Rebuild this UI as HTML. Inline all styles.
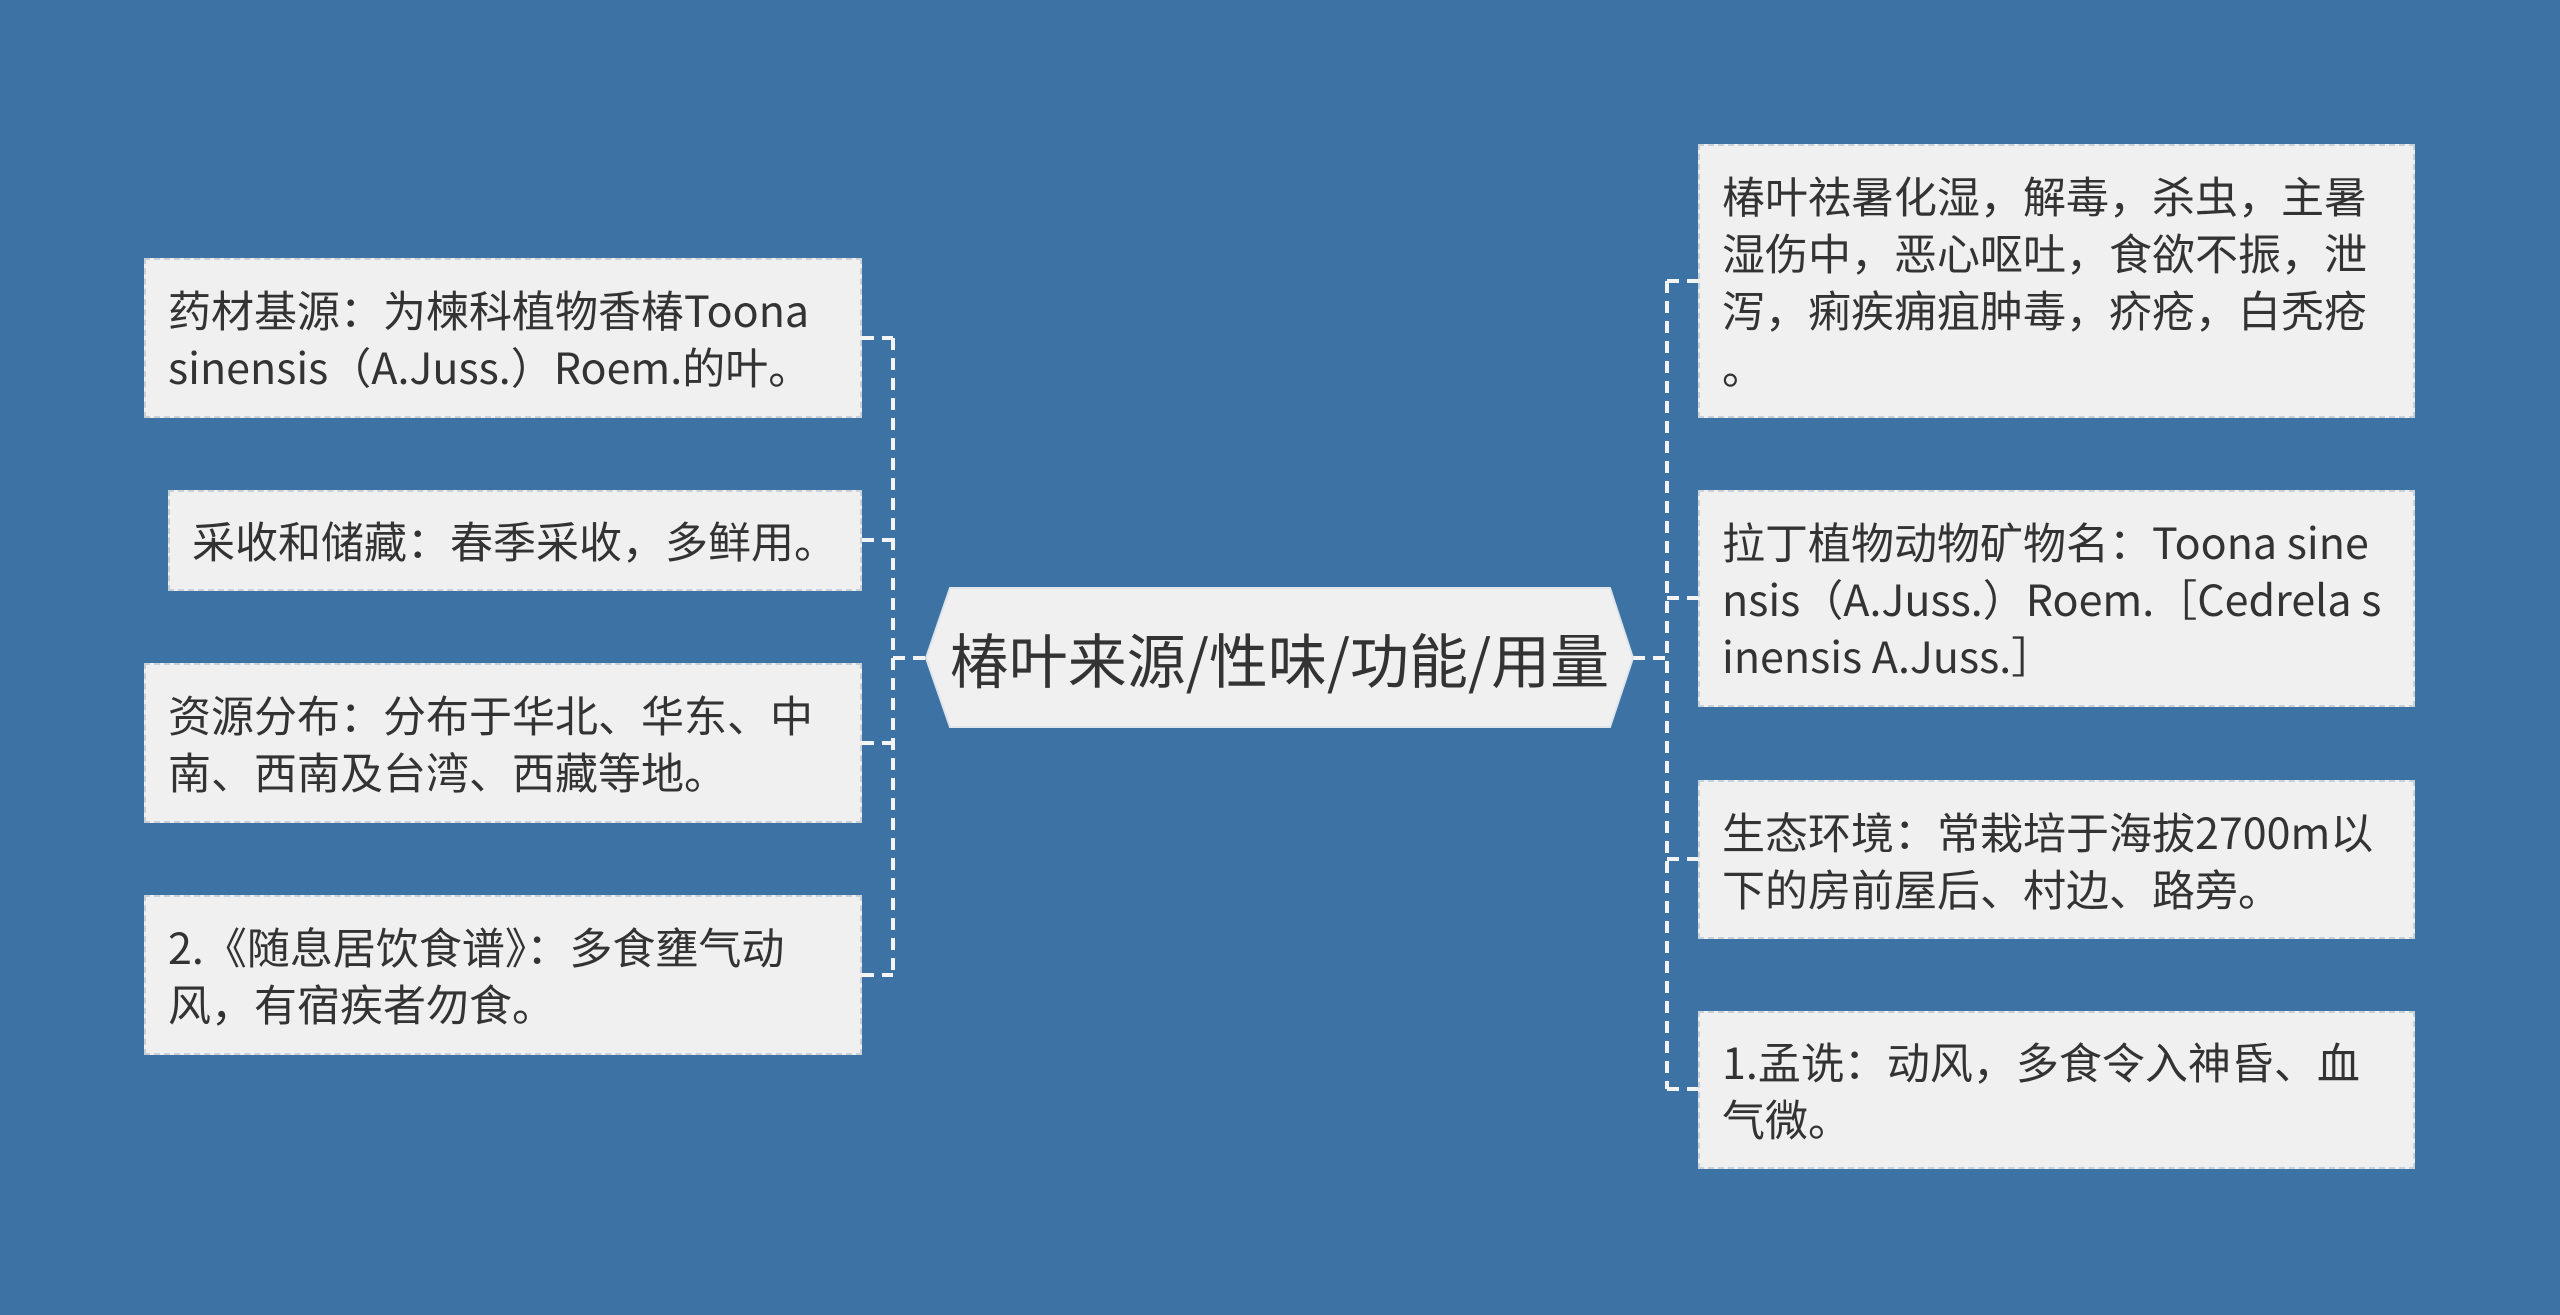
<!DOCTYPE html>
<html><head><meta charset="utf-8"><style>
body{margin:0;width:2560px;height:1315px;background:#3d72a4;position:relative;overflow:hidden;font-family:"Noto Sans CJK SC","Liberation Sans",sans-serif;}
.b{position:absolute;background:#f0f0f0;border:2px dashed #c8d0d8;box-sizing:border-box;display:flex;align-items:center;padding:0 30px 0 22px;font-size:43px;line-height:57px;color:#333;}
.ba{word-break:break-all;}
svg{position:absolute;left:0;top:0}
.c{position:absolute;left:926px;top:588px;width:707px;height:139px;display:flex;align-items:center;justify-content:center;font-size:59px;color:#333;white-space:nowrap;}
</style></head><body>
<svg width="2560" height="1315">
<g stroke="#f4f4f4" stroke-width="4" stroke-dasharray="12,8" fill="none">
<path d="M893 338 V975"/>
<path d="M862 338 H893 M862 540 H893 M862 743 H893 M862 975 H893 M893 658 H926"/>
<path d="M1667 281 V1089"/>
<path d="M1667 281 H1698 M1667 598 H1698 M1667 859 H1698 M1667 1089 H1698 M1633 658 H1667"/>
</g>
<polygon points="950,588 1610,588 1633,658 1610,727 950,727 926,658" fill="#f0f0f0" stroke="#dfe5ea" stroke-width="2"/>
</svg>
<div class="c">椿叶来源/性味/功能/用量</div>
<div class="b" style="left:144px;top:258px;width:718px;height:160px">药材基源：为楝科植物香椿Toona sinensis（A.Juss.）Roem.的叶。</div>
<div class="b" style="left:168px;top:490px;width:694px;height:101px;white-space:nowrap;padding-right:10px">采收和储藏：春季采收，多鲜用。</div>
<div class="b ba" style="left:144px;top:663px;width:718px;height:160px">资源分布：分布于华北、华东、中南、西南及台湾、西藏等地。</div>
<div class="b ba" style="left:144px;top:895px;width:718px;height:160px">2.《随息居饮食谱》：多食壅气动风，有宿疾者勿食。</div>
<div class="b ba" style="left:1698px;top:144px;width:717px;height:274px">椿叶祛暑化湿，解毒，杀虫，主暑湿伤中，恶心呕吐，食欲不振，泄泻，痢疾痈疽肿毒，疥疮，白秃疮<br>。</div>
<div class="b ba" style="left:1698px;top:490px;width:717px;height:217px">拉丁植物动物矿物名：Toona sinensis（A.Juss.）Roem.［Cedrela sinensis A.Juss.］</div>
<div class="b ba" style="left:1698px;top:780px;width:717px;height:159px">生态环境：常栽培于海拔2700m以下的房前屋后、村边、路旁。</div>
<div class="b ba" style="left:1698px;top:1011px;width:717px;height:158px">1.孟诜：动风，多食令入神昏、血气微。</div>
</body></html>
